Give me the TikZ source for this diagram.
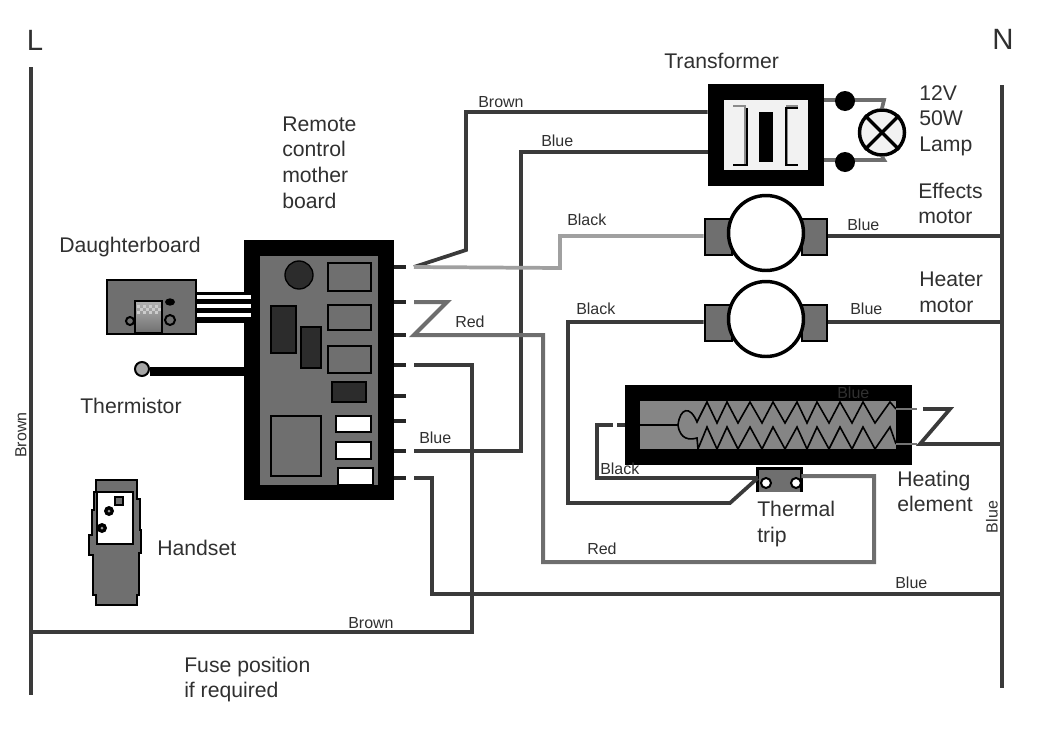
\documentclass[tikz,border=0pt]{standalone}
\usepackage{fontspec}
\setmainfont{Liberation Sans}
\usetikzlibrary{fit,shapes.geometric}
\definecolor{wiredk}{HTML}{3A3A3A}
\definecolor{wirelt}{HTML}{A0A0A0}
\definecolor{wiremd}{HTML}{6E6E6E}
\definecolor{partgr}{HTML}{6F6F6F}
\definecolor{chipdk}{HTML}{2C2C2C}
\definecolor{inkdk}{HTML}{303030}
\newcommand{\rbox}[4]{\node [fit={(#2)(#3)},inner sep=0pt,#4] (#1) {}}
\newcommand{\rdot}[4]{\node [circle,inner sep=0pt,minimum size=#3*0.75pt,#4] (#1) at (#2) {}}
\newcommand{\blab}[3]{\node [biglab] (#1) at (#2) {#3}}
\newcommand{\slab}[3]{\node [smlab] (#1) at (#2) {#3}}
\tikzset{
  biglab/.style={anchor=west,inner sep=0pt,align=left,text=inkdk,font=\fontsize{15.9}{19.2}\selectfont},
  smlab/.style={anchor=west,inner sep=0pt,text=inkdk,font=\fontsize{12}{14}\selectfont},
  wire/.style={draw=wiredk,line width=2.8pt,line join=miter},
  wirered/.style={draw=wiremd,line width=3pt},
  wirelite/.style={draw=wirelt,line width=2.8pt},
  stub/.style={draw=black!85,line width=2.8pt},
  part/.style={draw=black,line width=1.5pt,fill=partgr},
  chip/.style={draw=black,line width=1.5pt,fill=chipdk},
  whitepart/.style={draw=black,line width=1.5pt,fill=white},
  blackfill/.style={fill=black},
  endblock/.style={draw=black,line width=2.2pt,fill=partgr},
  motor/.style={draw=black,line width=2.6pt,fill=white},
}
\begin{document}
\begin{tikzpicture}[x=0.75pt,y=-0.75pt]
\useasboundingbox (0,0) rectangle (1046,732);

% mains
\coordinate (Ltop) at (31,67);
\coordinate (Lbot) at (31,695);
\coordinate (Ntop) at (1002,85);
\coordinate (Nbot) at (1002,688);
\draw[wire] (Ltop) -- (Lbot);
\draw[wire] (Ntop) -- (Nbot);

% mother board
\rbox{BRD}{244,240}{394,500}{blackfill};
\rbox{BRDIN}{260,256}{378,485}{fill=partgr};
\rdot{REC}{299,275}{28}{fill=chipdk,draw=black,line width=1pt};
\rbox{RLA}{328,263}{371,291}{part};
\rbox{RLB}{328,305}{371,330}{part};
\rbox{RLC}{328,346}{371,373}{part};
\rbox{ICA}{332,382}{366,402}{chip};
\rbox{ICB}{271,306}{296,353}{chip};
\rbox{ICC}{301,327}{321,368}{chip};
\rbox{BIG}{271,416}{321,476}{part};
\rbox{FSA}{336,416}{371,432}{whitepart};
\rbox{FSB}{336,442}{371,459}{whitepart};
\rbox{FSC}{338,468}{373,485}{whitepart};

% board terminals
\foreach \nm/\yy in {a/267,b/302,c/335,d/365,e/396,f/421,g/451,h/478} {
  \coordinate (S\nm) at (394,\yy);
  \coordinate (T\nm) at (414,\yy);
  \draw[stub] (S\nm) -- ++(12,0);
}

% daughterboard
\rbox{DGH}{107,280}{196,334}{part};
\rbox{DCH}{135,301}{162,333}{draw=black,line width=2pt,top color=black!30,bottom color=partgr};
\foreach \xx in {137,143,149,155} {
  \fill[white!80!black] (\xx,305) rectangle ++(3,3);
  \fill[white!80!black] (\xx+3,308) rectangle ++(3,3);
  \fill[white!80!black] (\xx,311) rectangle ++(3,3);
}
\rdot{DDA}{130,321}{8}{draw=black,line width=1.5pt,fill=partgr};
\rdot{DDB}{170,320}{10}{draw=black,line width=1.5pt,fill=partgr};
\node [ellipse,inner sep=0pt,minimum width=7.5pt,minimum height=5.5pt,fill=black] (DDC) at (170,302) {};
\rbox{DBUS}{196,292}{244,323}{blackfill};
\foreach \yy in {297,306,315} {
  \draw[white,line width=3pt] (DGH.east |- 0,\yy) -- (251,\yy);
}

% thermistor
\rdot{THM}{142,369}{14}{draw=black,line width=1.5pt,fill=black!35};
\draw[black,line width=6.5pt] (THM.east |- 0,371.5) -- (BRD.west |- 0,371.5);

% handset
\draw[draw=black,line width=1.5pt,fill=partgr]
  (96,480) -- (137,480) -- (137,499) -- (140,499) -- (140,530) -- (141,530) -- (141,553)
  -- (139,553) -- (139,595) -- (137,595) -- (137,605) -- (96,605) -- (96,595) -- (93,595)
  -- (93,555) -- (89,555) -- (89,535) -- (92,535) -- (92,510) -- (94,510) -- (94,492) -- (96,492) -- cycle;
\rbox{HSC}{97,492}{133,544}{fill=white,draw=black,line width=1pt};
\rbox{HBA}{115,497}{123,505}{fill=partgr,draw=black,line width=1.5pt};
\rdot{HBB}{109,511}{10}{fill=black};
\rdot{HBC}{102,528}{10}{fill=black};
\rdot{HBD}{109,511}{3}{fill=black!40};
\rdot{HBE}{102,528}{3}{fill=black!40};

% transformer
\rbox{TRF}{708,84}{824,186}{blackfill};
\rbox{TRI}{724,100}{808,170}{fill=black!5};
\rbox{TRC}{759,112}{773,162}{blackfill};
\draw[black!45,line width=2pt] (733,106) -- (745,106) -- (745,165);
\draw[black!45,line width=2pt] (798,106) -- (787,106) -- (787,165);
\draw[black,line width=1.5pt] (746.5,108) -- (746.5,165) -- (733,165);
\draw[black,line width=1.5pt] (798,108) -- (786,108) -- (786,165) -- (798,165);

% lamp
\coordinate (TPA) at (824,100);
\coordinate (TPB) at (824,160);
\rdot{LMP}{882,132.5}{45}{draw=black,line width=2.6pt,fill=black!5};
\draw[wire,draw=wiremd] (TPA) -- (884,100) -- (LMP.north);
\draw[wire,draw=wiremd] (TPB) -- (884,160) -- (LMP.south);
\draw[black,line width=2.6pt] (LMP.north west) -- (LMP.south east);
\draw[black,line width=2.6pt] (LMP.north east) -- (LMP.south west);
\rdot{TDA}{845,101}{20}{fill=black};
\rdot{TDB}{845,162}{20}{fill=black};

% effects motor
\rbox{EML}{705,219}{732,255}{endblock};
\rbox{EMR}{802,219}{827,255}{endblock};
\rdot{EMO}{766,233}{75}{motor};

% heater motor
\rbox{HML}{705,305}{732,341}{endblock};
\rbox{HMR}{802,305}{827,341}{endblock};
\rdot{HMO}{766,319}{75}{motor};

% heating element
\rbox{HTR}{625,385}{912,465}{blackfill};
\rbox{HTI}{640,401}{896,449}{fill=black!48};
\coordinate (HCL) at (678,425);
\coordinate (HLT) at (896,409);
\coordinate (HLB) at (896,444);
\draw[black,line width=1.2pt] (HCL) .. controls (680,408) and (690,405) .. (697,422) -- (707,402)
  -- (717,423) -- (727,402) -- (738,423) -- (750,402) -- (762,423) -- (773,402) -- (785,423)
  -- (797,402) -- (807,423) -- (817,402) -- (829,423) -- (840,402) -- (852,423) -- (863,402)
  -- (875,423) -- (890,402) -- (HLT);
\draw[black,line width=1.2pt] (HCL) .. controls (680,440) and (690,440) .. (697,438) -- (698,449)
  -- (707,427) -- (717,449) -- (727,427) -- (738,449) -- (750,427) -- (762,449) -- (773,427)
  -- (785,449) -- (797,427) -- (807,449) -- (817,427) -- (829,449) -- (840,427) -- (852,449)
  -- (863,427) -- (875,449) -- (890,427) -- (HLB);
\draw[black,line width=1.5pt] (628,425) -- (HCL);
\draw[draw=black!55,line width=2pt] (HLT) -- (917,409);
\draw[draw=black!55,line width=2pt] (HLB) -- (917,444);

% thermal trip
\rbox{TTP}{758,469}{801,492}{fill=partgr};
\draw[black,line width=2.2pt] (TTP.south west) -- (TTP.north west) -- (TTP.north east) -- (TTP.south east);
\rdot{TTA}{766,483}{10}{fill=white,draw=black,line width=1.5pt};
\rdot{TTB}{796,483}{10}{fill=white,draw=black,line width=1.5pt};

% wires
\draw[wire] (Ta) -- (466,250) -- (466,112) -- (TRF.west |- 0,112);
\draw[wire] (Tg) -- (521,451) -- (521,152) -- (TRF.west |- 0,152);
\draw[wirelite] (Ta) -- (560,268) -- (560,236) -- (EML.west |- 0,236);
\draw[wire] (EMR.east |- 0,236) -- (Ntop |- 0,236);
\draw[wire] (HML.west |- 0,322) -- (568,322) -- (568,503) -- (730,503) -- (TTP.west |- 0,478);
\draw[wire] (HMR.east |- 0,322) -- (Ntop |- 0,322);
\draw[wirered] (Tb) -- (447,302) -- (Tc) -- (543,335) -- (543,562) -- (874,562) -- (874,476) -- (TTP.east |- 0,476);
\draw[wire] (Td) -- (472,365) -- (472,632) -- (Ltop |- 0,632);
\draw[wire] (Th) -- (432,478) -- (432,594) -- (Ntop |- 0,594);
\draw[wire] (TTP.west |- 0,478) -- (597,478) -- (597,425) -- (613,425);
\draw[wire] (617,425) -- (HTR.west |- 0,425);
\draw[wire] (923,409) -- (950,409) -- (920,444) -- (Ntop |- 0,444);

% labels
\node [anchor=center,inner sep=0pt,text=inkdk,font=\fontsize{22}{24}\selectfont] (LL) at (35,40) {L};
\node [anchor=center,inner sep=0pt,text=inkdk,font=\fontsize{22}{24}\selectfont] (NN) at (1003,39) {N};
\blab{TXF}{664,61}{Transformer};
\blab{LMT}{919,120.5}{12V\\50W\\Lamp};
\blab{EFT}{918,203.5}{Effects\\motor};
\blab{HMT}{919,292.5}{Heater\\motor};
\blab{RCT}{282,162.5}{Remote\\control\\mother\\board};
\blab{DBT}{59,247}{Daughterboard};
\blab{TMT}{80,406}{Thermistor};
\blab{HST}{157,548}{Handset};
\blab{HET}{897,491.5}{Heating\\element};
\blab{TTT}{757,524}{Thermal\\trip};
\blab{FUT}{184,679.5}{Fuse position\\if required};

\slab{WBR}{478,102}{Brown};
\slab{WBL}{541,141}{Blue};
\slab{WBK}{567,220}{Black};
\slab{WEB}{847,225}{Blue};
\slab{WHK}{576,309}{Black};
\slab{WHB}{850,309}{Blue};
\slab{WRD}{455,322}{Red};
\slab{WBG}{419,438}{Blue};
\slab{WBH}{837,393}{Blue};
\slab{WEK}{600,469}{Black};
\slab{WRE}{587,549}{Red};
\slab{WNB}{895,583}{Blue};
\slab{WLB}{348,623}{Brown};
\node [smlab,anchor=center,rotate=90] (WRL) at (21,435) {Brown};
\node [smlab,anchor=center,rotate=90] (WRN) at (992,517) {Blue};

\end{tikzpicture}
\end{document}
